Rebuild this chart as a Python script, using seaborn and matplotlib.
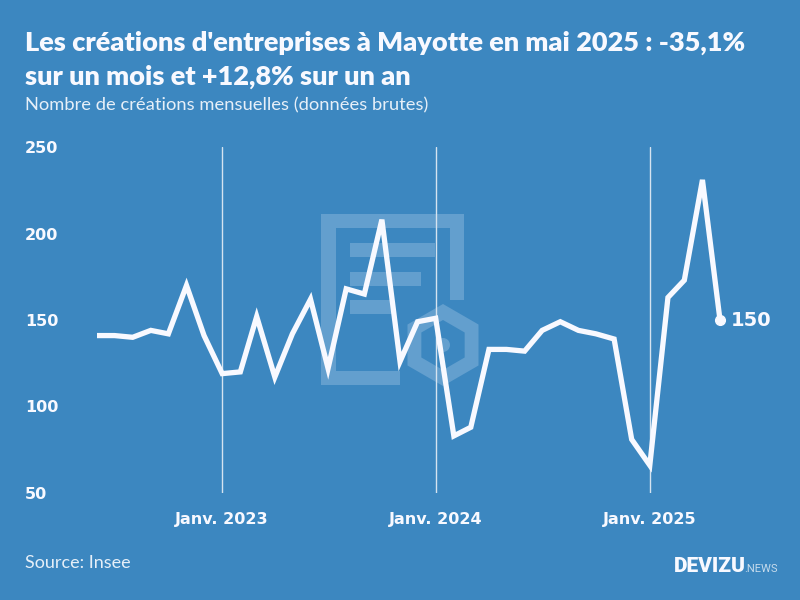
import numpy as np
import pandas as pd
import matplotlib
matplotlib.use("Agg")
import matplotlib.pyplot as plt
from matplotlib.patches import Rectangle, Polygon, Circle
import seaborn as sns

# Monthly values, June 2022 to May 2025
months = pd.date_range("2022-06-01", "2025-05-01", freq="MS")
creations = [141, 141, 140, 144, 142, 170, 141,
             119, 120, 152, 117, 142, 162, 122, 168, 165, 208, 126, 149,
             151, 83, 88, 133, 133, 132, 144, 149, 144, 142, 139, 81,
             66, 163, 173, 231, 150]
y_ticks = [50, 100, 150, 200, 250]
x_ticks = ["2023-01-01", "2024-01-01", "2025-01-01"]
x_labels = ["Janv. 2023", "Janv. 2024", "Janv. 2025"]

BG = "#3c87c0"
WHITE = "#f8f9ff"
MARK = "#639fce"

sns.set_theme(style="white")
plt.rcParams["font.family"] = ["Lato", "DejaVu Sans"]

fig = plt.figure(figsize=(8, 6), dpi=100, facecolor=BG)

# Background layer in pixel coordinates for the watermark and the texts
bg = fig.add_axes([0, 0, 1, 1], zorder=0)
bg.set_xlim(0, 800)
bg.set_ylim(600, 0)
bg.axis("off")

# Watermark logo
for x, y, w, h in [(321, 214, 143, 14), (321, 214, 15, 171), (321, 371, 79, 14),
                   (450, 214, 14, 86), (350, 243, 85, 14), (350, 272, 71, 14),
                   (350, 300, 42, 14)]:
    bg.add_patch(Rectangle((x, y), w, h, color=MARK, lw=0))


def hexagon(r):
    a = np.radians(np.arange(30, 390, 60))
    return np.column_stack([443 + r * np.cos(a), 345 + r * np.sin(a)])


bg.add_patch(Polygon(hexagon(41), color=MARK, lw=0))
bg.add_patch(Polygon(hexagon(25), color=BG, lw=0))
bg.add_patch(Circle((443, 345), 7, color=MARK, lw=0))

# Main chart
ax = fig.add_axes([97 / 800, 1 - 493 / 600, (720 - 97) / 800, (493 - 147) / 600], zorder=1)
ax.patch.set_alpha(0)
df = pd.DataFrame({"mois": months, "creations": creations})
sns.lineplot(data=df, x="mois", y="creations", ax=ax, color=WHITE, lw=3.8,
             clip_on=False, solid_joinstyle="miter", solid_capstyle="butt", zorder=3)
ax.plot(months[-1], creations[-1], "o", color=WHITE, ms=7, clip_on=False, zorder=4)
ax.annotate(str(creations[-1]), (months[-1], creations[-1]), xytext=(8, 0),
            textcoords="offset points", color=WHITE, fontsize=14, fontweight="bold",
            family="DejaVu Sans", va="center", annotation_clip=False)

ax.set_xlim(months[0], months[-1])
ax.set_ylim(50, 250)
ax.set_xlabel("")
ax.set_ylabel("")
ax.set_yticks(y_ticks)
ax.set_xticks(pd.to_datetime(x_ticks))
ax.set_xticklabels(x_labels, fontsize=11.5, fontweight="bold", color=WHITE, family="DejaVu Sans")
ax.set_yticklabels(y_ticks, fontsize=11.5, fontweight="bold", color=WHITE, ha="left",
                   family="DejaVu Sans")
ax.tick_params(axis="y", length=0, pad=52)
ax.tick_params(axis="x", length=0, pad=14)
ax.grid(axis="x", color="#d5e3f0", lw=1)
sns.despine(ax=ax, left=True, bottom=True)

# Titles, source, logo
bg.text(25, 43, "Les créations d'entreprises à Mayotte en mai 2025 : -35,1%", color=WHITE,
        fontsize=19.5, fontweight="heavy", va="center")
bg.text(25, 77, "sur un mois et +12,8% sur un an", color=WHITE,
        fontsize=19.5, fontweight="heavy", va="center")
bg.text(25, 105, "Nombre de créations mensuelles (données brutes)", color="#e6eff8",
        fontsize=13.2, va="center")
bg.text(25, 563, "Source: Insee", color="#e6eff8", fontsize=13, va="center")
bg.text(674, 566, "DEVIZU", color=WHITE, fontsize=15, fontweight="black",
        family="Roboto", va="center")
bg.text(744, 569, ".NEWS", color="#c6dbec", fontsize=8, family="Roboto", va="center")

fig.savefig("out.png", dpi=100, facecolor=BG)
